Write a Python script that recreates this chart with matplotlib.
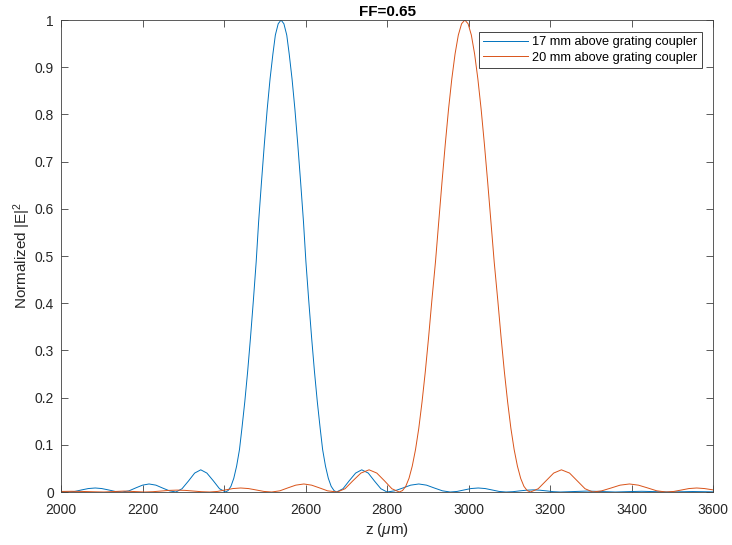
import matplotlib
matplotlib.use('Agg')
import matplotlib.pyplot as plt
import numpy as np

plt.rcParams['font.family'] = ['Liberation Sans', 'DejaVu Sans']
plt.rcParams['mathtext.fontset'] = 'custom'
plt.rcParams['mathtext.rm'] = 'Liberation Sans'
plt.rcParams['mathtext.it'] = 'Liberation Sans:italic'

# 17 mm curve
z_blue = [2000, 2008, 2017, 2034, 2050, 2067, 2084, 2100, 2117, 2133, 2150,
          2167, 2183, 2200, 2216, 2233, 2249, 2266, 2282,
          2297, 2313, 2328, 2343, 2358, 2374, 2389,
          2404, 2410, 2417, 2424, 2431, 2438, 2444, 2451, 2458, 2465,
          2472, 2479, 2485, 2492, 2499, 2506, 2513, 2520, 2526, 2533,
          2540, 2547, 2554, 2560, 2567, 2574, 2581, 2588, 2595, 2601,
          2608, 2615, 2622, 2629, 2636, 2642, 2649, 2656, 2663, 2670, 2676,
          2692, 2707, 2723, 2738, 2754, 2769, 2785, 2800,
          2819, 2839, 2858, 2878, 2897, 2916, 2936, 2955,
          2972, 2989, 3006, 3024, 3041, 3058, 3075, 3092,
          3109, 3125, 3142, 3159, 3175, 3192, 3208, 3225,
          3259, 3292, 3326, 3360, 3392, 3425, 3457, 3490,
          3520, 3550, 3580, 3600]
e_blue = [0.001, 0.0005, 0, 0.0012, 0.0043, 0.0073, 0.0085, 0.0073, 0.0043, 0.0012, 0,
          0.0025, 0.0085, 0.0145, 0.017, 0.0145, 0.0085, 0.0025, 0,
          0.0069, 0.0235, 0.0401, 0.047, 0.0401, 0.0235, 0.0069,
          0, 0.003, 0.012, 0.029, 0.055, 0.090, 0.135, 0.191, 0.255, 0.327,
          0.405, 0.488, 0.573, 0.657, 0.737, 0.811, 0.875, 0.928, 0.968, 0.992,
          1.0, 0.992, 0.968, 0.928, 0.875, 0.811, 0.737, 0.657, 0.573, 0.488,
          0.405, 0.327, 0.255, 0.191, 0.135, 0.090, 0.055, 0.029, 0.012, 0.003, 0,
          0.0069, 0.0235, 0.0401, 0.047, 0.0401, 0.0235, 0.0069, 0,
          0.0025, 0.0085, 0.0145, 0.017, 0.0145, 0.0085, 0.0025, 0,
          0.0012, 0.0043, 0.0073, 0.0085, 0.0073, 0.0043, 0.0012, 0,
          0.0007, 0.0023, 0.0038, 0.0045, 0.0038, 0.0023, 0.0007, 0,
          0.001, 0.002, 0.001, 0, 0.0008, 0.0015, 0.0008, 0,
          0.0005, 0.001, 0.0006, 0.0003]

# 20 mm curve
z_red = [2000, 2026, 2052, 2079, 2105, 2130, 2155, 2180, 2205,
         2225, 2245, 2265, 2285, 2305, 2325, 2345, 2365,
         2384, 2403, 2422, 2441, 2460, 2479, 2498, 2517,
         2537, 2556, 2576, 2596, 2615, 2635, 2654, 2678,
         2697, 2716, 2736, 2756, 2775, 2794, 2812,
         2830, 2838, 2846, 2854, 2862, 2870, 2878, 2886, 2894, 2902,
         2910, 2919, 2927, 2935, 2943, 2951, 2959, 2967, 2975, 2983,
         2991, 2999, 3007, 3015, 3023, 3031, 3039, 3047, 3055, 3063,
         3072, 3080, 3088, 3096, 3104, 3112, 3120, 3128, 3136, 3144, 3152,
         3171, 3190, 3209, 3228, 3248, 3267, 3286, 3305,
         3327, 3350, 3372, 3395, 3417, 3440, 3462, 3485,
         3504, 3523, 3541, 3560, 3579, 3600]
e_red = [0.0012, 0.0015, 0.0012, 0.0005, 0, 0.001, 0.002, 0.001, 0,
         0.0006, 0.002, 0.0034, 0.004, 0.0034, 0.002, 0.0006, 0,
         0.0012, 0.0043, 0.0073, 0.0085, 0.0073, 0.0043, 0.0012, 0,
         0.0025, 0.0085, 0.0145, 0.017, 0.0145, 0.0085, 0.0025, 0,
         0.0069, 0.0235, 0.0401, 0.047, 0.0401, 0.0235, 0.0069,
         0, 0.003, 0.012, 0.029, 0.055, 0.090, 0.135, 0.191, 0.255, 0.327,
         0.405, 0.488, 0.573, 0.657, 0.737, 0.811, 0.875, 0.928, 0.968, 0.992,
         1.0, 0.992, 0.968, 0.928, 0.875, 0.811, 0.737, 0.657, 0.573, 0.488,
         0.405, 0.327, 0.255, 0.191, 0.135, 0.090, 0.055, 0.029, 0.012, 0.003, 0,
         0.0069, 0.0235, 0.0401, 0.047, 0.0401, 0.0235, 0.0069, 0,
         0.0025, 0.0085, 0.0145, 0.017, 0.0145, 0.0085, 0.0025, 0,
         0.0012, 0.0043, 0.0073, 0.0085, 0.0073, 0.0045]

labels = ['17 mm above grating coupler', '20 mm above grating coupler']
xticks = np.arange(2000, 3601, 200)
yticks = np.arange(0, 1.01, 0.1)
ytick_labels = ['0', '0.1', '0.2', '0.3', '0.4', '0.5', '0.6', '0.7', '0.8', '0.9', '1']

fig = plt.figure(figsize=(7.32, 5.45), dpi=100)
ax = fig.add_axes([61/732, 1-492/545, 652/732, 472/545])
ax.plot(z_blue, e_blue, color='#0072BD', lw=0.7, label=labels[0])
ax.plot(z_red, e_red, color='#D95319', lw=0.7, label=labels[1])

ax.set_xlim(2000, 3600)
ax.set_ylim(0, 1)
ax.set_xticks(xticks)
ax.set_yticks(yticks)
ax.set_yticklabels(ytick_labels)
ax.tick_params(direction='in', top=True, right=True, length=5, width=0.6,
               colors='#404040', labelsize=10, labelcolor='#262626')
ax.tick_params(axis='x', pad=8)
ax.tick_params(axis='y', pad=5)
for s in ax.spines.values():
    s.set_linewidth(0.6)
    s.set_color('#404040')

ax.set_xlabel('z ($\\mu$m)', fontsize=11, color='#262626', labelpad=3)
ax.set_ylabel('Normalized |E|$^2$', fontsize=11, color='#262626', labelpad=1)
ax.set_title('FF=0.65', fontsize=11, fontweight='bold', color='#000000', pad=3)

leg = ax.legend(loc='upper right', fontsize=9.2, fancybox=False, framealpha=1,
                edgecolor='#262626', handlelength=3.5, borderaxespad=0.9,
                borderpad=0.35, labelspacing=0.3, handletextpad=0.3)
leg.get_frame().set_linewidth(0.6)

fig.savefig('out.png', dpi=100)
